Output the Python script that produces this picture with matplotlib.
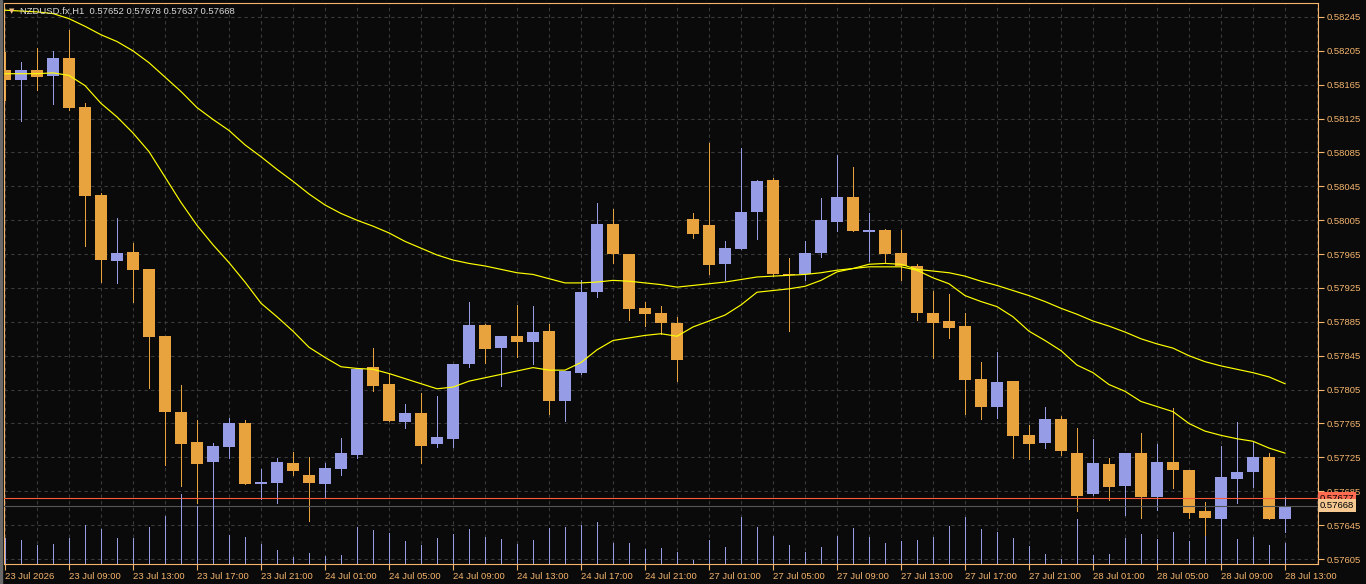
import matplotlib
matplotlib.use('Agg')
import matplotlib.pyplot as plt
from matplotlib.patches import Rectangle
import numpy as np

plt.rcParams['font.family'] = ['Liberation Sans', 'DejaVu Sans']

# NZDUSD.fx H1, 81 bars from 23 Jul 05:00 to 28 Jul 13:00
opens = [0.58182, 0.58170, 0.58182, 0.58175, 0.58196, 0.58139, 0.58035, 0.57957, 0.57967, 0.57947,
         0.57868, 0.57778, 0.57743, 0.57719, 0.57737, 0.57765, 0.57694, 0.57695, 0.57718, 0.57704,
         0.57694, 0.57711, 0.57728, 0.57832, 0.57812, 0.57767, 0.57777, 0.57741, 0.57747, 0.57835,
         0.57881, 0.57854, 0.57868, 0.57861, 0.57874, 0.57792, 0.57825, 0.57920, 0.58001, 0.57965,
         0.57901, 0.57895, 0.57884, 0.58006, 0.57999, 0.57953, 0.57971, 0.58015, 0.58052, 0.57942,
         0.57941, 0.57966, 0.58003, 0.58032, 0.57991, 0.57993, 0.57966, 0.57951, 0.57895, 0.57886,
         0.57880, 0.57818, 0.57785, 0.57815, 0.57752, 0.57742, 0.57770, 0.57730, 0.57682, 0.57717,
         0.57691, 0.57730, 0.57678, 0.57719, 0.57710, 0.57662, 0.57652, 0.57699, 0.57708, 0.57725,
         0.57652]
highs = [0.58204, 0.58192, 0.58208, 0.58205, 0.58230, 0.58143, 0.58037, 0.58008, 0.57978, 0.57947,
         0.57868, 0.57810, 0.57769, 0.57742, 0.57772, 0.57769, 0.57711, 0.57724, 0.57731, 0.57725,
         0.57718, 0.57748, 0.57829, 0.57854, 0.57823, 0.57788, 0.57801, 0.57798, 0.57835, 0.57908,
         0.57882, 0.57868, 0.57905, 0.57904, 0.57882, 0.57827, 0.57934, 0.58025, 0.58018, 0.57965,
         0.57909, 0.57904, 0.57891, 0.58014, 0.58096, 0.57980, 0.58090, 0.58052, 0.58055, 0.57960,
         0.57980, 0.58031, 0.58082, 0.58068, 0.58013, 0.57995, 0.57993, 0.57953, 0.57921, 0.57918,
         0.57895, 0.57838, 0.57850, 0.57815, 0.57763, 0.57785, 0.57774, 0.57760, 0.57747, 0.57724,
         0.57730, 0.57754, 0.57741, 0.57783, 0.57710, 0.57672, 0.57738, 0.57767, 0.57744, 0.57730,
         0.57678]
lows = [0.58147, 0.58122, 0.58159, 0.58142, 0.58135, 0.57975, 0.57932, 0.57931, 0.57909, 0.57807,
        0.57716, 0.57691, 0.57671, 0.57694, 0.57724, 0.57694, 0.57676, 0.57671, 0.57704, 0.57650,
        0.57678, 0.57704, 0.57724, 0.57803, 0.57768, 0.57760, 0.57718, 0.57737, 0.57737, 0.57832,
        0.57836, 0.57809, 0.57843, 0.57835, 0.57776, 0.57768, 0.57823, 0.57914, 0.57955, 0.57887,
        0.57880, 0.57871, 0.57815, 0.57984, 0.57942, 0.57934, 0.57971, 0.57983, 0.57939, 0.57874,
        0.57934, 0.57962, 0.57992, 0.57992, 0.57957, 0.57954, 0.57934, 0.57887, 0.57842, 0.57866,
        0.57776, 0.57770, 0.57771, 0.57724, 0.57723, 0.57736, 0.57728, 0.57662, 0.57681, 0.57675,
        0.57657, 0.57653, 0.57663, 0.57689, 0.57653, 0.57632, 0.57645, 0.57671, 0.57690, 0.57652,
        0.57637]
closes = [0.58170, 0.58182, 0.58174, 0.58197, 0.58137, 0.58034, 0.57958, 0.57966, 0.57946, 0.57867,
          0.57779, 0.57741, 0.57717, 0.57738, 0.57765, 0.57694, 0.57696, 0.57719, 0.57709, 0.57695,
          0.57712, 0.57730, 0.57829, 0.57809, 0.57768, 0.57777, 0.57739, 0.57749, 0.57835, 0.57881,
          0.57853, 0.57868, 0.57861, 0.57873, 0.57792, 0.57827, 0.57920, 0.58000, 0.57965, 0.57900,
          0.57894, 0.57884, 0.57840, 0.57989, 0.57952, 0.57972, 0.58015, 0.58051, 0.57942, 0.57940,
          0.57966, 0.58005, 0.58033, 0.57992, 0.57994, 0.57965, 0.57951, 0.57895, 0.57884, 0.57878,
          0.57816, 0.57785, 0.57814, 0.57750, 0.57741, 0.57770, 0.57732, 0.57679, 0.57718, 0.57690,
          0.57730, 0.57678, 0.57719, 0.57710, 0.57659, 0.57653, 0.57702, 0.57708, 0.57725, 0.57652,
          0.57668]
volumes = [260, 240, 190, 200, 260, 390, 350, 260, 260, 370,
           480, 700, 580, 800, 290, 270, 200, 140, 70, 110,
           80, 90, 370, 340, 310, 230, 190, 260, 300, 350,
           270, 250, 200, 240, 360, 370, 390, 420, 210, 210,
           150, 160, 120, 40, 240, 170, 470, 370, 280, 190,
           120, 170, 280, 360, 270, 210, 230, 240, 270, 380,
           470, 350, 320, 260, 180, 100, 50, 450, 90, 100,
           260, 300, 250, 320, 230, 280, 440, 250, 270, 190,
           210]
ma_fast = [0.58178, 0.58178, 0.58178, 0.58179, 0.58176, 0.58164, 0.58143, 0.58127, 0.58108, 0.58086,
           0.58056, 0.58026, 0.57999, 0.57976, 0.57955, 0.57932, 0.57907, 0.57891, 0.57874, 0.57855,
           0.57843, 0.57832, 0.57830, 0.57829, 0.57824, 0.57818, 0.57812, 0.57806, 0.57808, 0.57815,
           0.57819, 0.57823, 0.57827, 0.57831, 0.57828, 0.57828, 0.57837, 0.57852, 0.57863, 0.57866,
           0.57869, 0.57871, 0.57868, 0.57879, 0.57886, 0.57893, 0.57905, 0.57920, 0.57922, 0.57924,
           0.57927, 0.57934, 0.57944, 0.57948, 0.57950, 0.57950, 0.57950, 0.57946, 0.57937, 0.57930,
           0.57916, 0.57909, 0.57903, 0.57891, 0.57874, 0.57863, 0.57851, 0.57834, 0.57825, 0.57811,
           0.57803, 0.57791, 0.57785, 0.57779, 0.57765, 0.57756, 0.57751, 0.57747, 0.57744, 0.57736,
           0.57730]
ma_slow = [0.58253, 0.58252, 0.58251, 0.58249, 0.58243, 0.58234, 0.58224, 0.58216, 0.58205, 0.58191,
           0.58174, 0.58157, 0.58138, 0.58124, 0.58111, 0.58094, 0.58080, 0.58065, 0.58051, 0.58036,
           0.58023, 0.58013, 0.58005, 0.57998, 0.57990, 0.57980, 0.57972, 0.57964, 0.57958, 0.57954,
           0.57951, 0.57947, 0.57943, 0.57941, 0.57936, 0.57931, 0.57931, 0.57932, 0.57934, 0.57933,
           0.57931, 0.57929, 0.57926, 0.57928, 0.57930, 0.57932, 0.57935, 0.57938, 0.57939, 0.57940,
           0.57941, 0.57943, 0.57946, 0.57948, 0.57953, 0.57954, 0.57953, 0.57947, 0.57945, 0.57943,
           0.57939, 0.57933, 0.57928, 0.57922, 0.57916, 0.57909, 0.57901, 0.57894, 0.57886, 0.57880,
           0.57873, 0.57865, 0.57859, 0.57854, 0.57845, 0.57838, 0.57833, 0.57829, 0.57825, 0.57820,
           0.57812]

date_labels = ['23 Jul 2026', '23 Jul 09:00', '23 Jul 13:00', '23 Jul 17:00', '23 Jul 21:00',
               '24 Jul 01:00', '24 Jul 05:00', '24 Jul 09:00', '24 Jul 13:00', '24 Jul 17:00',
               '24 Jul 21:00', '27 Jul 01:00', '27 Jul 05:00', '27 Jul 09:00', '27 Jul 13:00',
               '27 Jul 17:00', '27 Jul 21:00', '28 Jul 01:00', '28 Jul 05:00', '28 Jul 09:00',
               '28 Jul 13:00']
price_ticks = [0.57605, 0.57645, 0.57685, 0.57725, 0.57765, 0.57805, 0.57845, 0.57885, 0.57925,
               0.57965, 0.58005, 0.58045, 0.58085, 0.58125, 0.58165, 0.58205, 0.58245]
ask_price = 0.57677
bid_price = 0.57668
title = 'NZDUSD.fx,H1  0.57652 0.57678 0.57637 0.57668'

# couleurs
bg = '#0a0a0a'
bull = '#969ce6'
bear = '#e8a33f'
frame = '#f5b56e'
grid_col = '#3a3a3a'

W, H = 1366, 584
fig = plt.figure(figsize=(W / 100, H / 100), dpi=100, facecolor=bg)
rect = [4 / W, (H - 564) / H, (1318 - 4) / W, (564 - 3) / H]

# axe des prix (fond + grille), volumes par-dessus sans fond
ax = fig.add_axes(rect)
ax.set_facecolor(bg)
axv = fig.add_axes(rect, sharex=ax)
axv.set_facecolor('none')

x = np.arange(len(opens))
o = np.array(opens)
c = np.array(closes)
up = c >= o
cols = [bull if u else bear for u in up]

axv.vlines(x, 0, volumes, color=bull, lw=0.72, antialiased=False)
axv.set_ylim(0, 5610)
axv.axis('off')

# grille
ax.set_xticks(range(0, 81, 4))
ax.set_xticks(range(0, 83, 2), minor=True)
ax.set_yticks(price_ticks)
ax.grid(True, which='both', axis='x', color=grid_col, ls=(0, (3, 3)), lw=0.8)
ax.grid(True, which='major', axis='y', color=grid_col, ls=(0, (3, 3)), lw=0.8)
ax.set_axisbelow(True)

# bougies
ax.vlines(x, lows, highs, colors=cols, lw=0.72, antialiased=False, zorder=2)
body = np.maximum(np.abs(c - o), 0.000012)
ax.bar(x, body, bottom=np.minimum(o, c), width=0.69, color=cols, lw=0, zorder=3)

# moyennes mobiles
ax.plot(x, ma_slow, color='#ffff00', lw=0.85, zorder=4)
ax.plot(x, ma_fast, color='#ffff00', lw=0.85, zorder=4)

# lignes bid / ask
ax.axhline(ask_price, color='#ff5a3c', lw=0.8, zorder=5)
ax.axhline(bid_price, color='#555555', lw=0.8, zorder=5)

ax.set_xlim(-1 / 16, 1313 / 16)
ax.set_ylim(0.575991, 0.582615)

ax.yaxis.tick_right()
ax.set_yticklabels([f'{v:.5f}' for v in price_ticks])
ax.set_xticklabels(date_labels)
for lab in ax.get_xticklabels():
    lab.set_horizontalalignment('left')
ax.tick_params(axis='y', colors=frame, length=4, width=0.8, pad=2, labelsize=6.8)
ax.tick_params(axis='x', which='major', colors=frame, length=4, width=0.8, pad=1.5, labelsize=6.8)
ax.tick_params(axis='x', which='minor', length=0)
for s in ax.spines.values():
    s.set_color(frame)
    s.set_linewidth(0.8)

# étiquettes de prix à droite
tr = ax.get_yaxis_transform()
ax.text(1.0015, ask_price, f'{ask_price:.5f}', transform=tr, ha='left', va='center', fontsize=6.8,
        color='black', bbox=dict(boxstyle='square,pad=0.2', fc='#ff6a50', ec='none'), zorder=10, clip_on=False)
ax.text(1.0015, bid_price, f'{bid_price:.5f}', transform=tr, ha='left', va='center', fontsize=6.8,
        color='black', bbox=dict(boxstyle='square,pad=0.2', fc='#f5c892', ec='none'), zorder=10, clip_on=False)

# titre
fig.text(11.5 / W, 1 - 11 / H, '▼', fontsize=5, color='#f5c08a', family='DejaVu Sans', ha='center', va='center')
fig.text(20 / W, 1 - 11.7 / H, title, fontsize=6.8, color='#d8d8d8', ha='left', va='center')

# bord gauche de la fenêtre
fig.patches.append(Rectangle((0, 0), 2 / W, 1, transform=fig.transFigure, color='#6a6a6a'))

fig.savefig('out.png', dpi=100, facecolor=bg)
